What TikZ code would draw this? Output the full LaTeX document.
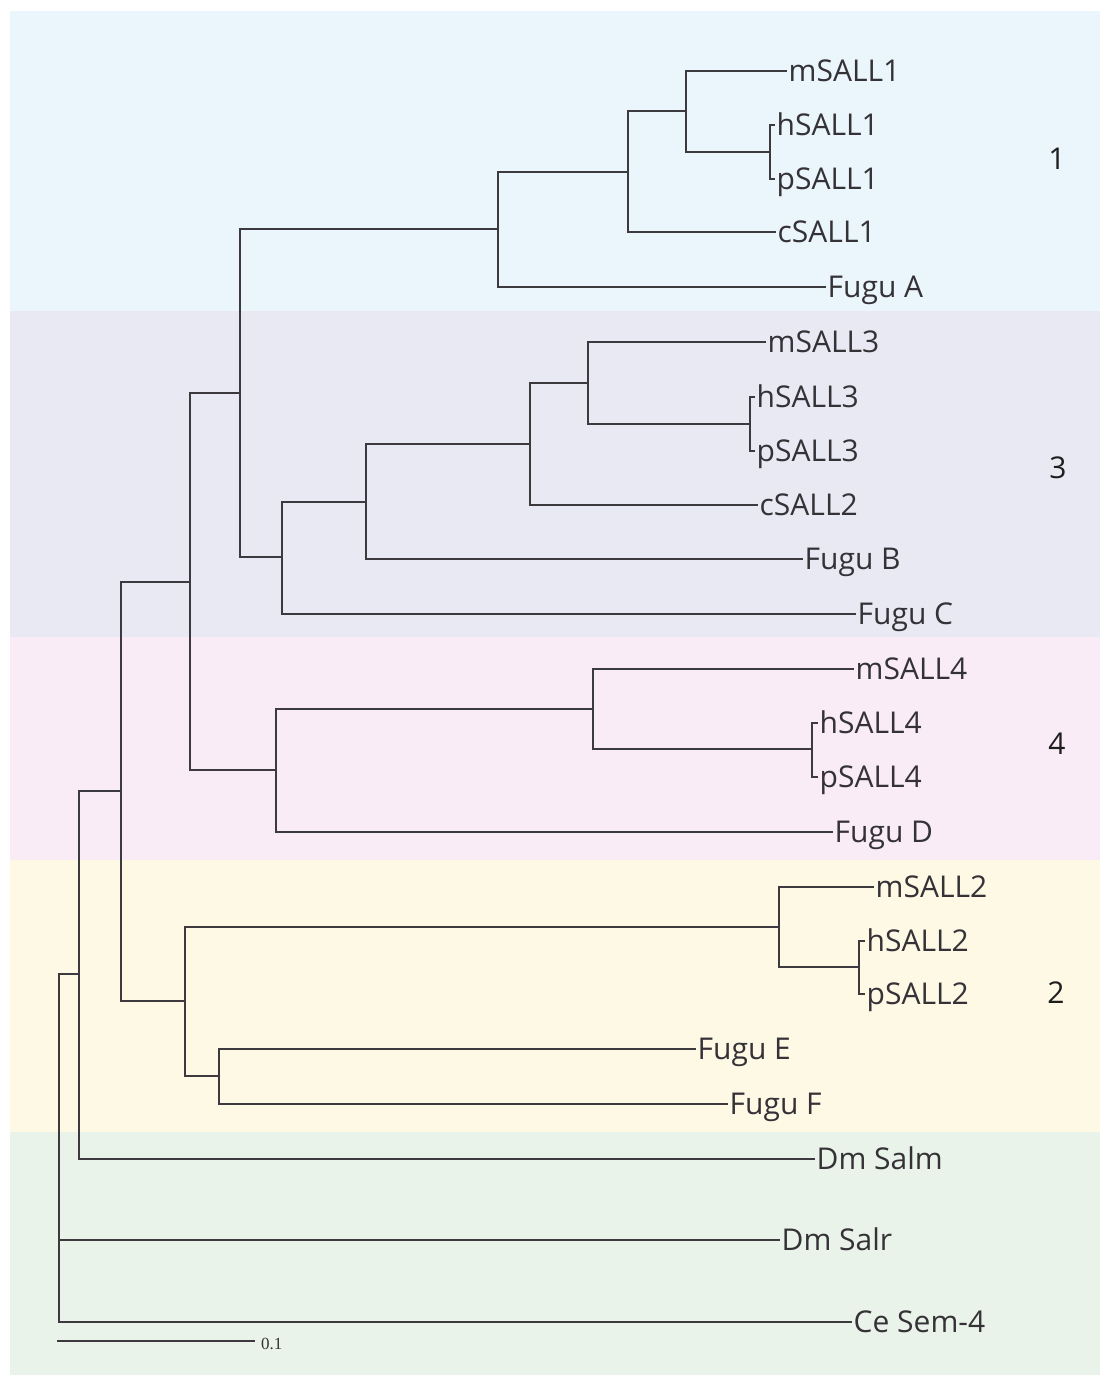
\documentclass[tikz,border=0pt]{standalone}
\usepackage{fontspec}
\setmainfont{Open Sans}
\newfontfamily\barfont{Liberation Serif}
\definecolor{bandA}{RGB}{235,246,252}
\definecolor{bandB}{RGB}{233,233,243}
\definecolor{bandC}{RGB}{249,236,246}
\definecolor{bandD}{RGB}{253,249,229}
\definecolor{bandE}{RGB}{234,243,234}
\definecolor{linec}{RGB}{60,58,62}
\definecolor{textc}{RGB}{52,50,54}
\definecolor{numc}{RGB}{30,30,30}
\begin{document}
\begin{tikzpicture}[x=1pt,y=-1pt,
  branch/.style={draw=linec, line width=1.8pt, line cap=rect},
  leaf/.style={anchor=west, inner xsep=2.5pt, inner ysep=0pt, text height=21.4pt, text depth=0pt, font=\fontsize{30}{36}\selectfont, text=textc},
  grp/.style={font=\fontsize{30}{36}\selectfont, text=numc, inner sep=0pt}]
\useasboundingbox (0,0) rectangle (1100,1376);
% background bands
\fill[bandA] (10,11) rectangle (1100,311);
\fill[bandB] (10,311) rectangle (1100,637);
\fill[bandC] (10,637) rectangle (1100,860);
\fill[bandD] (10,860) rectangle (1100,1132);
\fill[bandE] (10,1132) rectangle (1100,1375);
% group numbers
\node[grp] (g1) at (1057,159) {1};
\node[grp] (g3) at (1058,468) {3};
\node[grp] (g4) at (1057,744) {4};
\node[grp] (g2) at (1056,993) {2};
% leaves
\node[leaf] (mSALL1) at (786,71) {mSALL1};
\node[leaf] (hSALL1) at (774,125) {hSALL1};
\node[leaf] (pSALL1) at (774,179) {pSALL1};
\node[leaf] (cSALL1) at (775,232) {cSALL1};
\node[leaf] (FuguA) at (825,287) {Fugu A};
\node[leaf] (mSALL3) at (765,342) {mSALL3};
\node[leaf] (hSALL3) at (754,397) {hSALL3};
\node[leaf] (pSALL3) at (754,451) {pSALL3};
\node[leaf] (cSALL2) at (757,505) {cSALL2};
\node[leaf] (FuguB) at (802,559) {Fugu B};
\node[leaf] (FuguC) at (855,614) {Fugu C};
\node[leaf] (mSALL4) at (853,669) {mSALL4};
\node[leaf] (hSALL4) at (817,723) {hSALL4};
\node[leaf] (pSALL4) at (817,777) {pSALL4};
\node[leaf] (FuguD) at (832,832) {Fugu D};
\node[leaf] (mSALL2) at (873,887) {mSALL2};
\node[leaf] (hSALL2) at (864,941) {hSALL2};
\node[leaf] (pSALL2) at (864,994) {pSALL2};
\node[leaf] (FuguE) at (695,1049) {Fugu E};
\node[leaf] (FuguF) at (727,1104) {Fugu F};
\node[leaf] (DmSalm) at (814,1159) {Dm Salm};
\node[leaf] (DmSalr) at (779,1240) {Dm Salr};
\node[leaf] (CeSem) at (851,1322) {Ce Sem-4};
% internal nodes
\coordinate (hp1) at (770,152);
\coordinate (a) at (686,111);
\coordinate (b) at (628,172);
\coordinate (c) at (498,229);
\coordinate (hp3) at (750,424);
\coordinate (d) at (588,383);
\coordinate (e) at (530,444);
\coordinate (f) at (366,502);
\coordinate (g) at (282,557);
\coordinate (h) at (240,393);
\coordinate (hp4) at (812,749);
\coordinate (i) at (593,709);
\coordinate (j) at (276,770);
\coordinate (k) at (190,582);
\coordinate (hp2) at (859,967);
\coordinate (l) at (779,927);
\coordinate (m) at (219,1076);
\coordinate (n) at (185,1001);
\coordinate (o) at (121,791);
\coordinate (p) at (79,974);
\coordinate (root) at (59,974);
% branches
\draw[branch] (root) |- (p);
\draw[branch] (root) |- (DmSalr.west);
\draw[branch] (root) |- (CeSem.west);
\draw[branch] (p) |- (o);
\draw[branch] (p) |- (DmSalm.west);
\draw[branch] (o) |- (k);
\draw[branch] (o) |- (n);
\draw[branch] (k) |- (h);
\draw[branch] (k) |- (j);
\draw[branch] (h) |- (c);
\draw[branch] (h) |- (g);
\draw[branch] (c) |- (b);
\draw[branch] (c) |- (FuguA.west);
\draw[branch] (b) |- (a);
\draw[branch] (b) |- (cSALL1.west);
\draw[branch] (a) |- (mSALL1.west);
\draw[branch] (a) |- (hp1);
\draw[branch] (hp1) |- (hSALL1.west);
\draw[branch] (hp1) |- (pSALL1.west);
\draw[branch] (g) |- (f);
\draw[branch] (g) |- (FuguC.west);
\draw[branch] (f) |- (e);
\draw[branch] (f) |- (FuguB.west);
\draw[branch] (e) |- (d);
\draw[branch] (e) |- (cSALL2.west);
\draw[branch] (d) |- (mSALL3.west);
\draw[branch] (d) |- (hp3);
\draw[branch] (hp3) |- (hSALL3.west);
\draw[branch] (hp3) |- (pSALL3.west);
\draw[branch] (j) |- (i);
\draw[branch] (j) |- (FuguD.west);
\draw[branch] (i) |- (mSALL4.west);
\draw[branch] (i) |- (hp4);
\draw[branch] (hp4) |- (hSALL4.west);
\draw[branch] (hp4) |- (pSALL4.west);
\draw[branch] (n) |- (l);
\draw[branch] (n) |- (m);
\draw[branch] (l) |- (mSALL2.west);
\draw[branch] (l) |- (hp2);
\draw[branch] (hp2) |- (hSALL2.west);
\draw[branch] (hp2) |- (pSALL2.west);
\draw[branch] (m) |- (FuguE.west);
\draw[branch] (m) |- (FuguF.west);
% scale bar
\coordinate (sb1) at (58,1341);
\coordinate (sb2) at (254,1341);
\draw[branch] (sb1) -- (sb2);
\node[anchor=west, inner sep=0pt, xshift=7pt, yshift=-3pt, font=\barfont\fontsize{17}{20}\selectfont, text=textc] (sblabel) at (sb2) {0.1};
\end{tikzpicture}
\end{document}
